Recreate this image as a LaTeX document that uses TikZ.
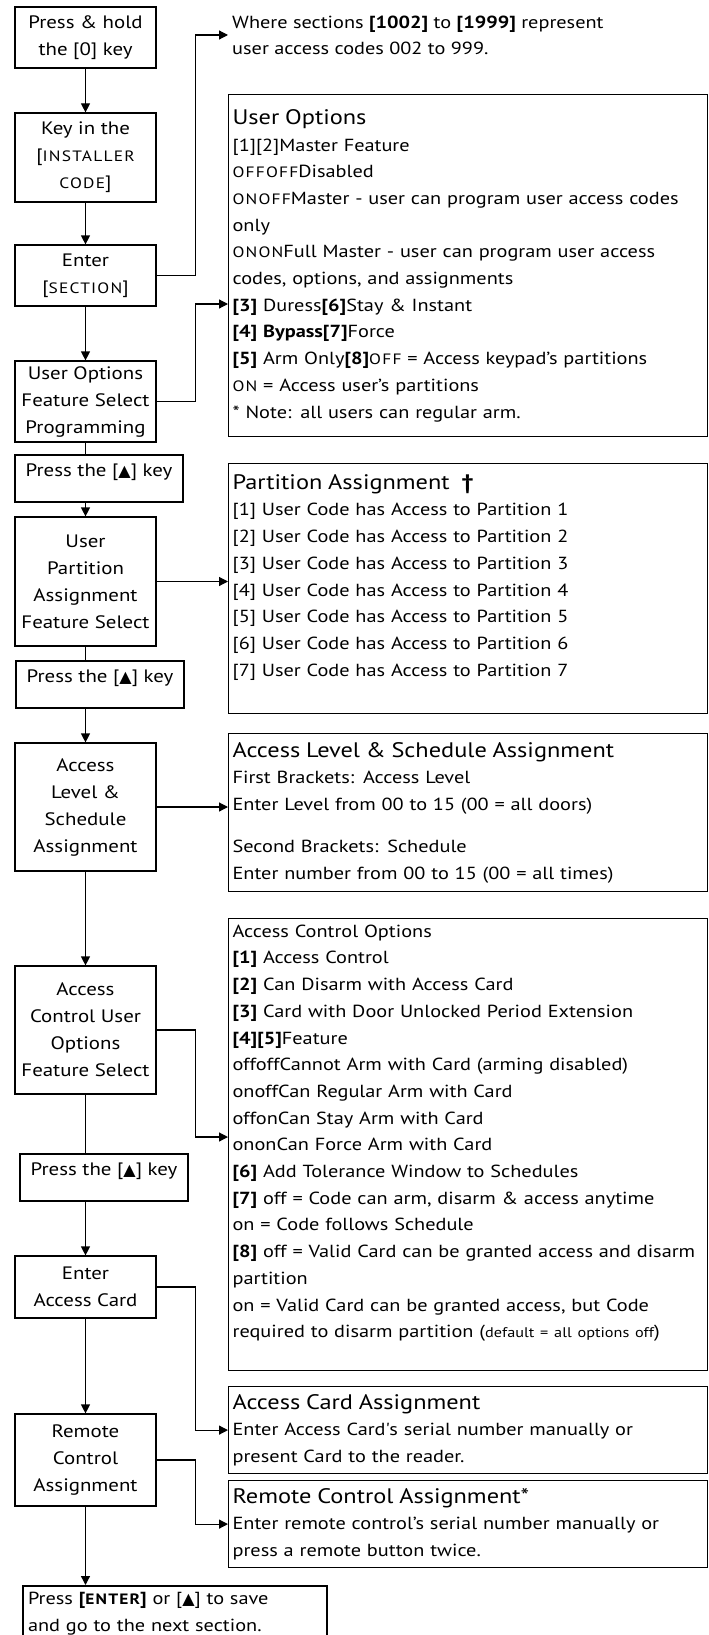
\documentclass[tikz,border=0pt]{standalone}
\usepackage{fontspec}
\setmainfont[FakeStretch=1.16]{PT Sans}
\newfontfamily\capsfont[FakeStretch=1.16, LetterSpace=8]{PT Sans}
\newfontfamily\symb{DejaVu Sans}
\usepackage{tikz}
\usetikzlibrary{shapes, arrows.meta, calc, positioning}

\newcommand{\smc}[1]{{\capsfont\fontsize{15}{15}\selectfont #1}}
\newcommand{\ttl}[1]{{\fontsize{21}{21}\selectfont #1}}
\newcommand{\up}{{\symb\fontsize{16}{16}\selectfont ▲}}

\begin{document}
\begin{tikzpicture}[x=1pt, y=-1pt, arrow/.style={line width=1.2pt, -{Triangle[length=9pt, width=9pt]}}, line/.style={line width=1.2pt}, node distance=120pt]
		\tikzset{stepbox/.style={draw=black, rectangle, line width=1.2pt, inner sep=2pt, text centered, align=center, minimum width=141pt, font=\fontsize{18}{27}\selectfont}}
		\tikzset{keybox/.style={draw=black, rectangle, line width=2pt, inner sep=0pt, minimum width=168pt, minimum height=47pt, text height=13pt, text depth=17pt, font=\fontsize{18}{27}\selectfont}}
		\tikzset{infobox/.style={draw=black, rectangle, line width=1.2pt, anchor=north west, inner xsep=4pt, inner ysep=0pt, text width=471pt, align=left, font=\fontsize{17.5}{26.7}\selectfont}}

		\clip (0,0) rectangle (709,1635);
		\useasboundingbox (0,0) rectangle (709,1635);
		\fill[white] (0,0) rectangle (709,1635);

		% Steps
		\node[stepbox, minimum height=61pt] (presshold) at (85.5,37.5) {Press \& hold\\ the [0] key};
		\node[stepbox, below of=presshold, node distance=120pt, minimum height=89pt] (installer) {Key in the\\ {[}\smc{INSTALLER}\\ \smc{CODE}]};
		\node[stepbox, below of=installer, node distance=118pt, minimum height=61pt] (section) {Enter\\ {[}\smc{SECTION}]};
		\node[stepbox, below of=section, node distance=126pt, minimum height=81pt] (useropts) {User Options\\ Feature Select\\ Programming};
		\node[keybox, below of=useropts, node distance=77pt, xshift=13.5pt] (keyone) {Press the [\up] key};
		\node[stepbox, below of=useropts, node distance=180pt, minimum height=129pt] (partsel) {User\\ Partition\\ Assignment\\ Feature Select};
		\node[keybox, below of=partsel, node distance=103pt, xshift=14.5pt] (keytwo) {Press the [\up] key};
		\node[stepbox, below of=partsel, node distance=225.5pt, minimum height=128pt] (acclevel) {Access\\ Level \&\\ Schedule\\ Assignment};
		\node[stepbox, below of=acclevel, node distance=223pt, minimum height=128pt] (accctrl) {Access\\ Control User\\ Options\\ Feature Select};
		\node[keybox, below of=accctrl, node distance=147pt, xshift=18.5pt] (keythree) {Press the [\up] key};
		\node[stepbox, below of=accctrl, node distance=257pt, minimum height=62pt] (entercard) {Enter\\ Access Card};
		\node[stepbox, below of=entercard, node distance=173pt, minimum height=92pt] (remote) {Remote\\ Control\\ Assignment};
		\node[draw=black, rectangle, line width=2pt, anchor=north west, inner xsep=5pt, inner ysep=6pt, text width=294pt, align=left, font=\fontsize{17.5}{26.7}\selectfont] (final) at (22,1585) {Press \textbf{[\smc{ENTER}]} or [\up] to save\\ and go to the next section.\\ \mbox{}};

		% Notes
		\node[anchor=west, inner xsep=4pt, align=left, font=\fontsize{17.5}{26.2}\selectfont] (where) at (228,35) {Where sections \textbf{[1002]} to \textbf{[1999]} represent\\ user access codes 002 to 999.};

		\node[infobox, minimum height=342pt] (useroptbox) at (228,94) {\ttl{User Options}\\
			{[}1][2]Master Feature\\
			\smc{OFFOFF}Disabled\\
			\smc{ONOFF}Master - user can program user access codes\\
			only\\
			\smc{ONON}Full Master - user can program user access\\
			codes, options, and assignments\\
			\textbf{[3]} Duress\textbf{[6]}Stay \& Instant\\
			\textbf{[4] Bypass[7]}Force\\
			\textbf{[5]} Arm Only\textbf{[8]}\smc{OFF} = Access keypad's partitions\\
			\smc{ON} = Access user's partitions\\
			{*} Note: all users can regular arm.};

		\node[infobox, minimum height=250pt] (partbox) at (228,463) {\ttl{Partition Assignment \ \textbf{†}}\\
			{[}1] User Code has Access to Partition 1\\
			{[}2] User Code has Access to Partition 2\\
			{[}3] User Code has Access to Partition 3\\
			{[}4] User Code has Access to Partition 4\\
			{[}5] User Code has Access to Partition 5\\
			{[}6] User Code has Access to Partition 6\\
			{[}7] User Code has Access to Partition 7\\
			\mbox{}};

		\node[infobox, minimum height=158pt] (levelbox) at (228,733) {\ttl{Access Level \& Schedule Assignment}\\
			First Brackets: Access Level\\
			Enter Level from 00 to 15 (00 = all doors)\\[15pt]
			Second Brackets: Schedule\\
			Enter number from 00 to 15 (00 = all times)};

		\node[infobox, minimum height=452pt] (ctrlbox) at (228,918) {Access Control Options\\
			\textbf{[1]} Access Control\\
			\textbf{[2]} Can Disarm with Access Card\\
			\textbf{[3]} Card with Door Unlocked Period Extension\\
			\textbf{[4][5]}Feature\\
			offoffCannot Arm with Card (arming disabled)\\
			onoffCan Regular Arm with Card\\
			offonCan Stay Arm with Card\\
			ononCan Force Arm with Card\\
			\textbf{[6]} Add Tolerance Window to Schedules\\
			\textbf{[7]} off = Code can arm, disarm \& access anytime\\
			on = Code follows Schedule\\
			\textbf{[8]} off = Valid Card can be granted access and disarm\\
			partition\\
			on = Valid Card can be granted access, but Code\\
			required to disarm partition ({\fontsize{14}{14}\selectfont default = all options off})\\
			\mbox{}};

		\node[infobox, minimum height=87pt] (cardbox) at (228,1386) {\ttl{Access Card Assignment}\\
			Enter Access Card\textquotesingle s serial number manually or\\
			present Card to the reader.};

		\node[infobox, minimum height=87pt] (remotebox) at (228,1480) {\ttl{Remote Control Assignment*}\\
			Enter remote control's serial number manually or\\
			press a remote button twice.};

		% Arrows
		\draw[arrow] (presshold) -- (installer);
		\draw[arrow] (installer) -- (section);
		\draw[arrow] (section) -- (useropts);
		\draw[line] (useropts.south) -- (useropts.south |- keyone.north);
		\draw[arrow] (keyone.south -| partsel) -- (partsel);
		\draw[line] (partsel.south) -- (partsel.south |- keytwo.north);
		\draw[arrow] (keytwo.south -| acclevel) -- (acclevel);
		\draw[arrow] (acclevel) -- (accctrl);
		\draw[line] (accctrl.south) -- (accctrl.south |- keythree.north);
		\draw[arrow] (keythree.south -| entercard) -- (entercard);
		\draw[arrow] (entercard) -- (remote);
		\draw[arrow] (remote.south) -- (remote.south |- final.north);

		\draw[arrow] (section.east) -- ++(39,0) |- (where.west);
		\coordinate (duress) at ($(useroptbox.north west)+(0,210)$);
		\draw[arrow] (useropts.east) -- ++(39,0) |- (duress);
		\draw[arrow] (partsel.east) -- (partsel.east -| partbox.west);
		\draw[arrow] (acclevel.east) -- (acclevel.east -| levelbox.west);
		\coordinate (ctrlin) at ($(ctrlbox.north west)+(0,219)$);
		\draw[arrow] (accctrl.east) -- ++(39,0) |- (ctrlin);
		\draw[arrow] (entercard.east) -- ++(39,0) |- (cardbox.west);
		\draw[arrow] (remote.east) -- ++(39,0) |- (remotebox.west);

	\end{tikzpicture}
\end{document}
